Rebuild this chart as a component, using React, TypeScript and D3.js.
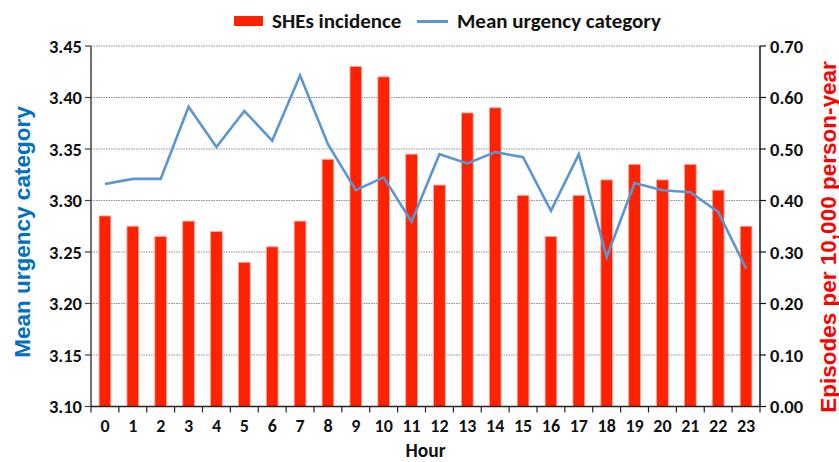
import React from "react";
import * as d3 from "d3";

const hours = d3.range(0, 24).map(String);
const incidence = [0.37, 0.35, 0.33, 0.36, 0.34, 0.28, 0.31, 0.36, 0.48, 0.66, 0.64, 0.49, 0.43, 0.57, 0.58, 0.41, 0.33, 0.41, 0.44, 0.47, 0.44, 0.47, 0.42, 0.35];
const urgency = [3.316, 3.321, 3.321, 3.391, 3.352, 3.387, 3.358, 3.4215, 3.3546, 3.310, 3.3225, 3.2794, 3.345, 3.336, 3.347, 3.342, 3.290, 3.345, 3.245, 3.317, 3.310, 3.308, 3.289, 3.234];
const leftTicks = [3.10, 3.15, 3.20, 3.25, 3.30, 3.35, 3.40, 3.45];
const rightTicks = [0, 0.1, 0.2, 0.3, 0.4, 0.5, 0.6, 0.7];

const W = 839, H = 462;
const L = 91, R = 760, T = 46, B = 406.5;
const tickFont = "Carlito, Calibri, Lato, sans-serif";
const titleFont = "'Liberation Sans', Arial, sans-serif";

export default function App() {
  const x = d3.scaleBand<string>().domain(hours).range([L, R]).padding(0);
  const yL = d3.scaleLinear().domain([3.1, 3.45]).range([B, T]);
  const yR = d3.scaleLinear().domain([0, 0.7]).range([B, T]);
  const bw = x.bandwidth() * 0.42;
  const line = d3.line<number>()
    .x((_, i) => (x(hours[i]) as number) + x.bandwidth() / 2)
    .y((d) => yL(d));
  const bounds = [...hours.map((h) => x(h) as number), R];

  return (
    <svg width={W} height={H} style={{ position: "absolute", left: 0, top: 0, background: "#fff" }}>
      {leftTicks.slice(1).map((t) => (
        <line key={"g" + t} x1={L} x2={R} y1={yL(t)} y2={yL(t)} stroke="#8f8f8f" strokeWidth={1} strokeDasharray="1.5,1" />
      ))}
      {incidence.map((v, i) => {
        const cx = (x(hours[i]) as number) + x.bandwidth() / 2;
        return (
          <rect key={"b" + i} x={cx - bw / 2} y={yR(v)} width={bw} height={B - yR(v)} fill="#FF2200" stroke="#FFA8A0" strokeWidth={0.8} />
        );
      })}
      <path d={line(urgency) as string} fill="none" stroke="#5A96D2" strokeWidth={2.6} strokeLinejoin="miter" />
      <line x1={L} x2={L} y1={T} y2={B} stroke="#404040" strokeWidth={1.5} />
      <line x1={R} x2={R} y1={T} y2={B} stroke="#111" strokeWidth={1.5} />
      <line x1={L} x2={R} y1={B} y2={B} stroke="#222" strokeWidth={1.5} />
      {leftTicks.map((t) => (
        <g key={"l" + t}>
          <line x1={L - 6} x2={L} y1={yL(t)} y2={yL(t)} stroke="#404040" strokeWidth={1.2} />
          <text x={82} y={yL(t)} textAnchor="end" dominantBaseline="central" fontFamily={tickFont} fontWeight="bold" fontSize={18.5} fill="#111">{t.toFixed(2)}</text>
        </g>
      ))}
      {rightTicks.map((t) => (
        <g key={"r" + t}>
          <line x1={R} x2={R + 6} y1={yR(t)} y2={yR(t)} stroke="#111" strokeWidth={1.2} />
          <text x={770} y={yR(t)} textAnchor="start" dominantBaseline="central" fontFamily={tickFont} fontWeight="bold" fontSize={18.5} fill="#111">{t.toFixed(2)}</text>
        </g>
      ))}
      {bounds.map((bx, i) => (
        <line key={"xt" + i} x1={bx} x2={bx} y1={B} y2={B + 6} stroke="#222" strokeWidth={1.2} />
      ))}
      {hours.map((h) => (
        <text key={"xl" + h} x={(x(h) as number) + x.bandwidth() / 2} y={426} textAnchor="middle" dominantBaseline="central" fontFamily={tickFont} fontWeight="bold" fontSize={18} fill="#111">{h}</text>
      ))}
      <text x={(L + R) / 2} y={450} textAnchor="middle" dominantBaseline="central" fontFamily={tickFont} fontWeight="bold" fontSize={19.5} fill="#111">Hour</text>
      <text transform={`translate(22,232) rotate(-90)`} textAnchor="middle" dominantBaseline="central" fontFamily={titleFont} fontWeight="bold" fontSize={22.5} fill="#0070C0">Mean urgency category</text>
      <text transform={`translate(828,237) rotate(-90)`} textAnchor="middle" dominantBaseline="central" fontFamily={titleFont} fontWeight="bold" fontSize={22.5} fill="#FF0000">Episodes per 10,000 person-year</text>
      <rect x={234} y={16} width={29} height={10} fill="#FF2200" />
      <text x={272} y={21} dominantBaseline="central" fontFamily={tickFont} fontWeight="bold" fontSize={21} fill="#111">SHEs incidence</text>
      <line x1={417} x2={448} y1={21.5} y2={21.5} stroke="#5A96D2" strokeWidth={3} />
      <text x={457} y={21} dominantBaseline="central" fontFamily={tickFont} fontWeight="bold" fontSize={21} fill="#111">Mean urgency category</text>
    </svg>
  );
}
